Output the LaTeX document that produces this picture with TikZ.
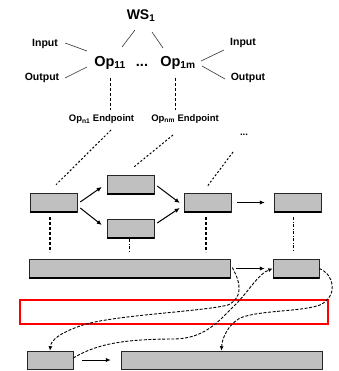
\documentclass[tikz,border=0pt]{standalone}
\usepackage{fontspec}
\setmainfont{Liberation Sans}
\usetikzlibrary{arrows.meta,calc}
\definecolor{boxgray}{HTML}{C0C0C0}
\definecolor{redline}{HTML}{FF0000}
\begin{document}
\begin{tikzpicture}[x=1pt,y=-1pt,
  lbl/.style={inner sep=0pt, anchor=base},
  wsf/.style={lbl, font=\fontsize{14}{16}\selectfont\bfseries},
  opf/.style={lbl, font=\fontsize{14.5}{16}\selectfont\bfseries},
  iof/.style={lbl, font=\fontsize{10.5}{12}\selectfont\bfseries},
  epf/.style={lbl, font=\fontsize{9.5}{11}\selectfont\bfseries},
  thin line/.style={draw=black!80, line width=0.6pt},
  vdash/.style={draw=black, line width=0.7pt, dash pattern=on 3pt off 2pt},
  ddash/.style={draw=black, line width=1pt, dash pattern=on 2pt off 2pt},
  bdash/.style={draw=black, line width=1.2pt, dash pattern=on 3pt off 2pt},
  cdash/.style={draw=black, line width=0.9pt, dash pattern=on 3pt off 1.6pt},
  stub/.style={draw=black, line width=0.6pt, dash pattern=on 3pt off 1.5pt on 1pt off 1.5pt},
  arr/.style={draw=black, line width=1pt, -{Latex[length=5pt,width=4.5pt]}},
  carr/.style={cdash, -{Latex[length=4.5pt,width=4pt]}},
  boxn/.style={draw=black!85, line width=0.5pt, fill=boxgray, minimum width=#1, minimum height=19pt, inner sep=0pt},
  botline/.style={draw=black, line width=1.6pt}
]
\useasboundingbox (0,0) rectangle (338,371);

% labels
\node[wsf] (WS) at (141,19.5) {WS\textsubscript{1}};
\node[opf] (Op11) at (110,66.5) {Op\textsubscript{11}};
\node[opf] (dots) at (142,66.5) {...};
\node[opf] (Op1m) at (178,66.5) {Op\textsubscript{1m}};
\node[iof] (InL) at (45,46.5) {Input};
\node[iof] (OutL) at (42,81) {Output};
\node[iof] (InR) at (243,45.5) {Input};
\node[iof] (OutR) at (248,80.5) {Output};
\node[epf] (EP1) at (101.5,122) {Op\textsubscript{n1} Endpoint};
\node[epf] (EP2) at (185,122) {Op\textsubscript{nm} Endpoint};
\node[epf] (dots3) at (244,136) {...};

% label connectors
\draw[thin line] ($(WS.base)+(-6,10.5)$) -- ($(Op11.base)+(12,-19.5)$);
\draw[thin line] ($(WS.base)+(11,12.5)$) -- ($(Op1m.base)+(-15,-18.5)$);
\draw[thin line] ($(InL.base)+(20,-3.5)$) -- ($(Op11.base)+(-23,-15.5)$);
\draw[thin line] ($(OutL.base)+(23,-3)$) -- ($(Op11.base)+(-23,0.5)$);
\draw[thin line] ($(InR.base)+(-19,4.5)$) -- ($(Op1m.base)+(23,-5.5)$);
\draw[thin line] ($(OutR.base)+(-23,-1.5)$) -- ($(Op1m.base)+(24,-0.5)$);
\draw[vdash] ($(Op11.base)+(0,11.5)$) -- ($(EP1.base)+(8.5,-12)$);
\draw[vdash] ($(Op1m.base)+(-3,11.5)$) -- ($(EP2.base)+(-10,-12)$);

% boxes
\node[boxn=47] (A) at (53.5,202.5) {};
\node[boxn=47] (B) at (130.5,184.5) {};
\node[boxn=47] (C) at (130.5,228.5) {};
\node[boxn=47] (D) at (207.5,202.5) {};
\node[boxn=47] (E) at (297.5,202.5) {};
\node[boxn=201] (F) at (129.5,268.5) {};
\node[boxn=46] (G) at (296,268.5) {};
\node[boxn=46,minimum height=18pt] (H) at (50,360) {};
\node[boxn=201,minimum height=18pt] (I) at (221.5,360) {};
\foreach \b in {A,B,C,D,E,F,G}
  \draw[botline] (\b.south west) -- (\b.south east);

% red rectangle
\node[draw=redline, line width=2.2pt, minimum width=308pt, minimum height=24pt, inner sep=0pt] (R) at (174,312) {};

% endpoint dashed links
\draw[ddash] ($(EP1.base)+(9.5,8)$) -- ($(A.north)+(2.5,-8)$);
\draw[ddash] ($(EP2.base)+(-12,13)$) -- ($(B.north)+(2.5,-7)$);
\draw[ddash] ($(dots3.base)+(-11,16)$) -- ($(D.north)+(-0.5,-6)$);

% solid arrows
\draw[arr] ($(A.east)+(3,-0.5)$) -- ($(B.west)+(-5,2.5)$);
\draw[arr] ($(A.east)+(3,5.5)$) -- ($(C.west)+(-5,-3.5)$);
\draw[arr] ($(B.east)+(3,1.5)$) -- ($(D.west)+(-4,0.5)$);
\draw[arr] ($(C.east)+(3,-5.5)$) -- ($(D.west)+(-4,5.5)$);
\draw[arr] ($(D.east)+(6,0)$) -- ($(E.west)+(-9,0)$);
\draw[arr] ($(F.east)+(6,0)$) -- ($(G.west)+(-8,0)$);
\draw[arr] ($(H.east)+(9,0)$) -- ($(I.west)+(-10,0)$);

% vertical dashed stubs
\draw[bdash] ($(A.south)+(-3.5,5)$) -- ($(A.south)+(-3.5,40)$);
\draw[stub] ($(C.south)+(-1.5,1)$) -- ($(C.south)+(-1.5,14)$);
\draw[bdash] ($(D.south)+(-1.5,5)$) -- ($(D.south)+(-1.5,40)$);
\draw[stub] ($(E.south)+(-4.5,5)$) -- ($(E.south)+(-4.5,40)$);

% dashed curves
\draw[carr] ($(F.east)+(2,-1)$) .. controls (242,285) and (242,298) .. (228,305)
  .. controls (200,312) and (110,315) .. (80,326)
  .. controls (60,333) and (51,340) .. (H.north);
\draw[carr] ($(H.east)+(0,-2)$) .. controls (95,345) and (120,339) .. (175,339)
  .. controls (205,338) and (218,322) .. (235,305)
  .. controls (250,290) and (258,274) .. (G.west);
\draw[carr] (G.east) .. controls (335,275) and (338,296) .. (320,305)
  .. controls (300,312) and (260,310) .. (240,318)
  .. controls (228,325) and (222,338) .. (I.north);
\end{tikzpicture}
\end{document}
